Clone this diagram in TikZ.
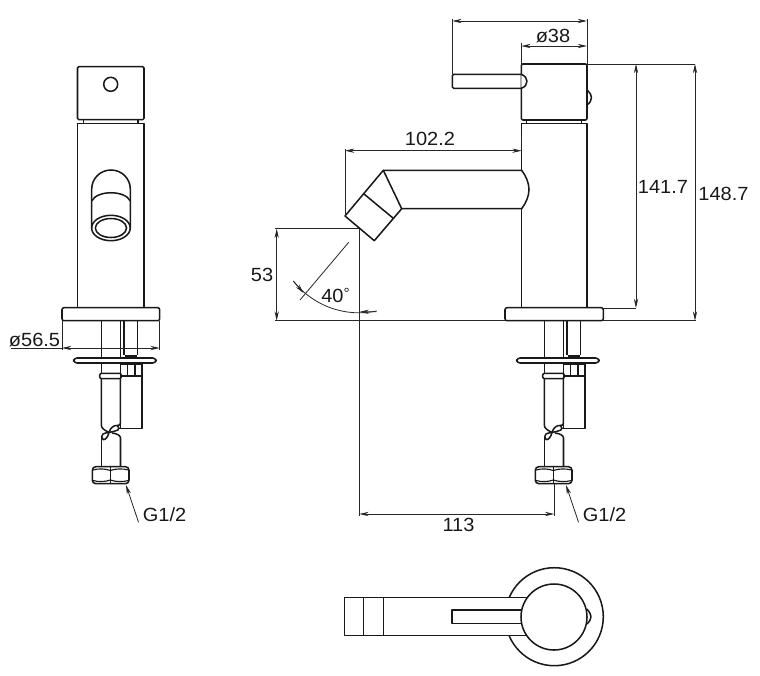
\documentclass[tikz,border=0pt]{standalone}
\usepackage{fontspec}
\setmainfont[FakeStretch=1.05]{Liberation Sans}
\usetikzlibrary{arrows.meta}
\tikzset{
  part/.style={line width=1.15pt,line join=round,black!90},
  thin part/.style={line width=0.85pt,black!90},
  dim/.style={line width=0.6pt,black!85},
  dimarrow/.style={dim,{Stealth[length=7pt,width=3.2pt]}-{Stealth[length=7pt,width=3.2pt]}},
  endarrow/.style={dim,-{Stealth[length=7pt,width=3.2pt]}},
  lab/.style={inner sep=0pt,font=\fontsize{14.3pt}{16pt}\selectfont,text=black!90},
}
\newcommand{\tailpart}{%
  \draw[part] (101.3,320.7) -- (101.3,373.3) (120.3,320.7) -- (120.3,373.3);
  \draw[part] (123.8,320.7) -- (123.8,355) (137.3,320.7) -- (137.3,355);
  \draw[part,line width=1.8pt] (124.5,356.5) -- (136.6,356.5);
  \draw[part,fill=white,rounded corners=2.4pt] (73.7,358) rectangle (156,363);
  \draw[part,rounded corners=1.5pt] (99.7,373.3) rectangle (121.3,378.7);
  \draw[part] (101.3,378.7) -- (101.3,425) .. controls (101.3,428) and (104,430) .. (109,432.5);
  \draw[part] (120.3,378.7) -- (120.3,423.5) .. controls (120.3,425) and (119,425.5) .. (117,425.5);
  \draw[part] (118,428.3) -- (142,428.3) -- (142,364) -- (120.7,364);
  \draw[part] (120.7,364) -- (120.7,428.3);
  \draw[part] (120.7,376) -- (142,376);
  \draw[thin part] (127.5,364) -- (127.5,376) (135,364) -- (135,376);
  \draw[part] (109,432.5) .. controls (110,428) and (114,425) .. (117,425.5)
     .. controls (119.5,426) and (119,429) .. (118,430)
     .. controls (115.5,432) and (112,431) .. (109,432.5)
     .. controls (108,437) and (105,440.5) .. (103,439.5)
     .. controls (100.5,438) and (102,435) .. (103,434)
     .. controls (105,432.5) and (107,433) .. (109,432.5);
  \draw[part] (101.5,466.7) -- (101.5,437);
  \draw[part] (120.5,466.7) -- (120.5,438) .. controls (120.5,435.5) and (117,433.5) .. (112,433);
  \draw[part,rounded corners=2.6pt] (92.3,466.7) rectangle (129,483.7);
  \draw[thin part] (110.3,466.7) -- (110.3,483.7);
  \draw[thin part] (93,470) .. controls (98,468.5) and (105,468.5) .. (110.3,470.5) .. controls (116,468.5) and (123,468.5) .. (128.5,470);
  \draw[thin part] (93,480.5) .. controls (98,482) and (105,482) .. (110.3,480) .. controls (116,482) and (123,482) .. (128.5,480.5);
}
\begin{document}
\begin{tikzpicture}[yscale=-1,x=0.75pt,y=0.75pt]
\useasboundingbox (0,0) rectangle (760,675);
% ---------- left view
\draw[part,rounded corners=1pt] (77.5,66.7) rectangle (144,119.7);
\draw[part] (83.5,119.7) -- (83.5,123.3) (138,119.7) -- (138,123.3);
\draw[part] (77.5,307.7) -- (77.5,123.3) -- (144,123.3) -- (144,307.7);
\node[part,draw,circle,minimum size=10.5pt,inner sep=0pt] (hole) at (110.7,84.3) {};
\draw[part] (91.7,228) -- (91.7,189) arc[start angle=180,end angle=360,x radius=19.3,y radius=19] -- (130.3,228);
\draw[part] (91.7,201) .. controls (97,190) and (125,190) .. (130.3,201);
\draw[part] (110.95,228) ellipse[x radius=19.3,y radius=12.7];
\draw[part] (110.95,228) ellipse[x radius=15.6,y radius=9.5];
\draw[part,rounded corners=1.5pt] (62,307.7) rectangle (159.7,320.7);
\tailpart
\begin{scope}[xshift=332.25pt]
\tailpart
\draw[part,rounded corners=1.5pt] (62,307.7) rectangle (160.3,320.7);
\end{scope}
% ---------- front view
\draw[part,rounded corners=1pt] (521.3,64) rectangle (587,120);
\draw[part] (526.7,120) -- (526.7,123.3) (581.7,120) -- (581.7,123.3);
\draw[part] (521.5,170.3) -- (521.5,123.3) -- (587,123.3) -- (587,307.7);
\draw[part] (521.5,208.7) -- (521.5,307.7);
\draw[part,rounded corners=1pt] (521.3,74.3) -- (452.3,74.3) -- (452.3,88.3) -- (521.3,88.3);
\draw[part,fill=white] (521.3,74.3) .. controls (525,76) and (527,78) .. (527,81.3) .. controls (527,84.5) and (525,87) .. (521.3,88.3);
\draw[part] (587,90) .. controls (590,93) and (591.5,95) .. (591.5,97.5) .. controls (591.5,100) and (590,103) .. (587,105);
\draw[part] (383.3,170.3) -- (521.7,170.3) .. controls (526,176) and (529,183) .. (529,189.5) .. controls (529,196) and (526,203) .. (521.7,208.7) -- (401.7,208.7);
\draw[part] (383.3,170.3) -- (345,216) -- (374.3,240.7) -- (401.7,208.7) -- cycle;
\draw[part] (364,194) -- (393.3,218.3);
% dimensions, front
\draw[dim] (452.3,74) -- (452.3,19) (587,64) -- (587,19) (521.3,64) -- (521.3,43);
\draw[dimarrow] (452.3,21) -- (587,21);
\draw[dimarrow] (521.3,46) -- (587,46);
\node[lab] (d38) at (553,36.5) {ø38};
\draw[dim] (587,64) -- (695,64);
\draw[dimarrow] (636,64) -- (636,308);
\draw[dim] (603,308) -- (636,308);
\draw[dimarrow] (695,64) -- (695,320.7);
\node[lab] (d141) at (663,187) {141.7};
\node[lab] (d148) at (723.5,194) {148.7};
\draw[dim] (275,320.7) -- (505,320.7) (603,320.7) -- (696,320.7);
\draw[dim] (345,216) -- (345,149);
\draw[dim] (521.7,150.7) -- (521.7,135);
\draw[dimarrow] (345,150.7) -- (521.7,150.7);
\node[lab] (d102) at (430,139.3) {102.2};
\draw[dim] (275,228.7) -- (359.3,228.7);
\draw[dim] (359.3,228.7) -- (359.3,516);
\draw[dimarrow] (276.7,228.7) -- (276.7,320.7);
\node[lab] (d53) at (262,275) {53};
\draw[dim] (348.7,242.3) -- (300,300);
\draw[dim] (293.3,281) arc[start angle=141.6,end angle=78,radius=84];
\draw[endarrow] (293.3,281) -- (303.6,293);
\draw[endarrow] (376.7,311.7) -- (359.5,311.9);
\node[lab] (d40) at (335.5,295.5) {40\raisebox{3.5pt}{\fontsize{11pt}{11pt}\selectfont°}};
\draw[dimarrow] (359.3,514) -- (554.3,514);
\draw[dim] (554.3,483.7) -- (554.3,516);
\node[lab] (d113) at (458.5,525) {113};
\node[lab] (g1) at (164.5,515) {G1/2};
\node[lab] (g2) at (604.5,515) {G1/2};
\coordinate (t1) at (126,485);
\coordinate (t2) at (566,485);
\draw[endarrow] (g1.south west) ++(-4,0) -- (t1);
\draw[endarrow] (g2.south west) ++(-4,0) -- (t2);
% left view 56.5
\draw[dim] (62,320.7) -- (62,350) (159.7,320.7) -- (159.7,350);
\draw[dimarrow] (62,348) -- (159.7,348);
\draw[dim] (11,348) -- (62,348);
\node[lab] (d56) at (34.5,340) {ø56.5};
% ---------- top view
\draw[part] (554.3,616.7) circle[radius=49];
\fill[white] (345,597.3) rectangle (530,635.7);
\draw[part] (527.5,597.3) -- (344.7,597.3) -- (344.7,635.7) -- (527.5,635.7);
\draw[part] (363.3,597.3) -- (363.3,635.7) (383.3,597.3) -- (383.3,635.7);
\draw[part] (525,610) -- (452,610) -- (452,623.7) -- (525,623.7);
\draw[part] (587,609) .. controls (589.5,612) and (591,614.5) .. (591,616.7) .. controls (591,619) and (589.5,621.5) .. (587,624);
\draw[part,fill=white] (554,617) circle[radius=33];
\end{tikzpicture}
\end{document}
